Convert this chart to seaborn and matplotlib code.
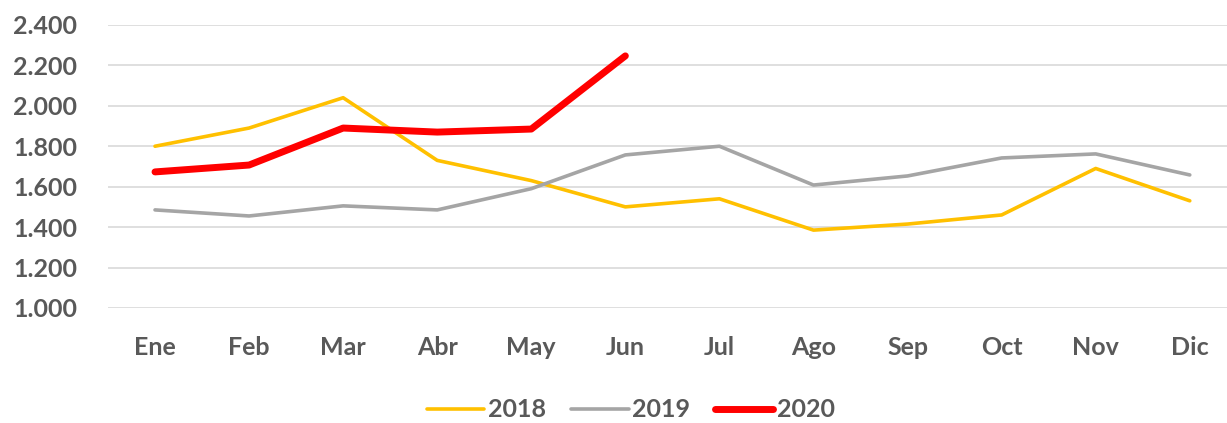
import numpy as np
import pandas as pd
import matplotlib
matplotlib.use("Agg")
import matplotlib.pyplot as plt
import seaborn as sns
from matplotlib.ticker import FuncFormatter

# Data
months = ["Ene", "Feb", "Mar", "Abr", "May", "Jun", "Jul", "Ago", "Sep", "Oct", "Nov", "Dic"]
v2018 = [1.80, 1.89, 2.04, 1.73, 1.63, 1.50, 1.54, 1.385, 1.415, 1.46, 1.69, 1.53]
v2019 = [1.485, 1.455, 1.505, 1.485, 1.59, 1.757, 1.80, 1.608, 1.653, 1.742, 1.762, 1.658]
v2020 = [1.673, 1.707, 1.89, 1.87, 1.885, 2.247]
series = ["2018", "2019", "2020"]
colors = {"2018": "#FFC000", "2019": "#A5A5A5", "2020": "#FF0000"}
widths = {"2018": 2.6, "2019": 2.6, "2020": 5.0}

rows = []
for name, vals in zip(series, [v2018, v2019, v2020]):
    for m, v in zip(months, vals):
        rows.append({"mes": m, "valor": v, "serie": name})
df = pd.DataFrame(rows)
df["pos"] = df["mes"].map({m: i for i, m in enumerate(months)})

sns.set_style("white")
plt.rcParams['font.family'] = ['Lato', 'DejaVu Sans']
text_color = "#595959"

fig, ax = plt.subplots(figsize=(12.27, 4.23), dpi=100)
fig.subplots_adjust(left=0.088, right=1.008, top=0.941, bottom=0.272)

for name in series:
    sub = df[df["serie"] == name]
    sns.lineplot(data=sub, x="pos", y="valor", ax=ax, color=colors[name],
                 linewidth=widths[name], label=name, solid_capstyle="round")

ax.set_ylim(1.0, 2.4)
ax.set_yticks(np.arange(1.0, 2.41, 0.2))
ax.yaxis.set_major_formatter(FuncFormatter(lambda v, p: f"{v:.3f}"))
ax.set_xlim(-0.5, 11.5)
ax.set_xticks(range(12))
ax.set_xticklabels(months)
ax.grid(axis="y", color="#D9D9D9", linewidth=1.2)
ax.set_axisbelow(True)
for s in ax.spines.values():
    s.set_visible(False)
ax.set_xlabel("")
ax.set_ylabel("")
ax.tick_params(axis="both", length=0, labelsize=18, labelcolor=text_color)
ax.tick_params(axis="x", pad=20)
ax.tick_params(axis="y", pad=22)
for lab in ax.get_xticklabels() + ax.get_yticklabels():
    lab.set_fontweight("bold")

leg = ax.legend(loc="center", bbox_to_anchor=(0.514, 0.031), bbox_transform=fig.transFigure,
                ncol=3, frameon=False, prop={"weight": "bold", "size": 18},
                handlelength=2.3, columnspacing=1.0, handletextpad=0.15)
for t in leg.get_texts():
    t.set_color(text_color)

fig.savefig("out.png", dpi=100)
